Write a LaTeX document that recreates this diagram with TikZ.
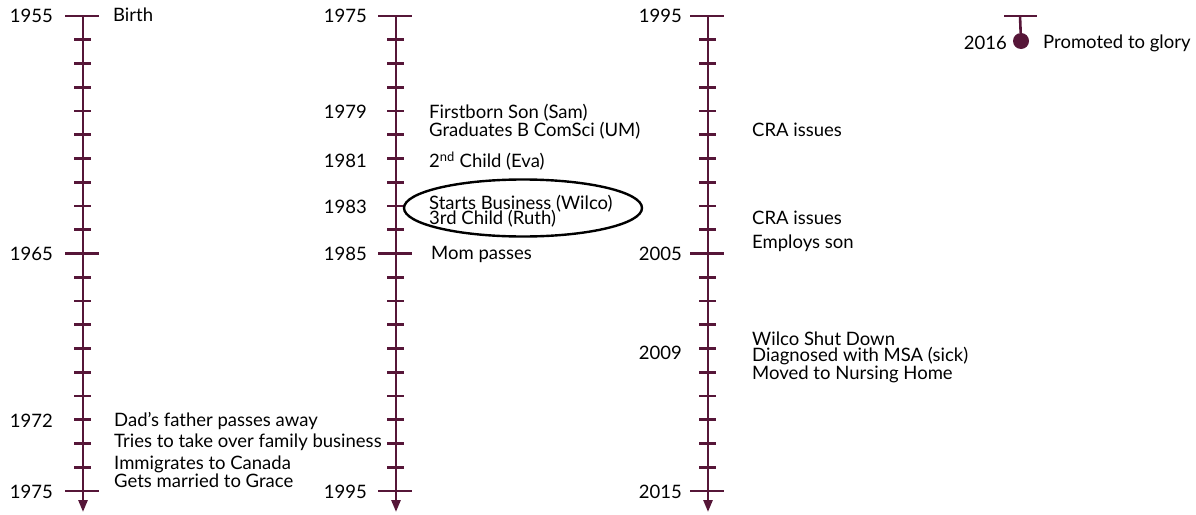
\documentclass[tikz,border=0pt]{standalone}
\usepackage{fontspec}
\setmainfont{Lato}
\usepackage{tikz}
\usetikzlibrary{arrows.meta,positioning,shapes.geometric}
\definecolor{lineplum}{RGB}{86,22,56}

\begin{document}
\begin{tikzpicture}[x=1pt,y=-1pt,
    axis/.style={lineplum, line width=2.6pt, -{Triangle[width=9pt,length=12pt]}},
    tick/.style={lineplum, line width=2.6pt},
    year/.style={anchor=east, inner sep=0pt, font=\fontsize{18.5}{22}\selectfont},
    event/.style={anchor=west, inner sep=0pt, font=\fontsize{18.5}{22}\selectfont}]
    \useasboundingbox (0,0) rectangle (1196,514);

    % Three time axes, 20 years each
    \foreach \x/\n in {83/a, 396/b, 708/c} {
        \coordinate (\n top) at (\x,16);
        \coordinate (\n end) at (\x,512);
        \draw[axis] (\n top) -- (\n end);
        \foreach \i in {0,...,20} {
            \pgfmathsetmacro{\ty}{16+\i*23.75}
            \ifnum\i=0 \draw[tick] (\x-18,\ty) -- (\x+16,\ty);
            \else\ifnum\i=10 \draw[tick] (\x-18,\ty) -- (\x+16,\ty);
            \else\ifnum\i=20 \draw[tick] (\x-18,\ty) -- (\x+16,\ty);
            \else \draw[tick] (\x-9,\ty) -- (\x+8,\ty);
            \fi\fi\fi
        }
    }

    % Years, first axis
    \node[year] (y1955) at (53,16) {1955};
    \node[year] (y1965) at (53,254) {1965};
    \node[year] (y1972) at (53,421) {1972};
    \node[year] (y1975a) at (53,492) {1975};

    % Events, first axis
    \node[event] (birth) at (113,15) {Birth};
    \node[event] (dadfather) at (114,421) {Dad’s father passes away};
    \node[event] (takeover) at (114,442) {Tries to take over family business};
    \node[event] (canada) at (114,464) {Immigrates to Canada};
    \node[event] (married) at (114,481) {Gets married to Grace};

    % Years, second axis
    \node[year] (y1975b) at (367,16) {1975};
    \node[year] (y1979) at (367,112) {1979};
    \node[year] (y1981) at (367,161) {1981};
    \node[year] (y1983) at (367,207) {1983};
    \node[year] (y1985) at (367,254) {1985};
    \node[year] (y1995a) at (367,492) {1995};

    % Events, second axis
    \node[event] (firstborn) at (429,113) {Firstborn Son (Sam)};
    \node[event] (graduates) at (429,131) {Graduates B ComSci (UM)};
    \node[event] (eva) at (429,161) {2\textsuperscript{nd} Child (Eva)};
    \node[event] (business) at (429,204) {Starts Business (Wilco)};
    \node[event] (ruth) at (429,219) {3rd Child (Ruth)};
    \node[event] (mom) at (431,254) {Mom passes};
    \node[draw, ellipse, line width=2.4pt, minimum width=238pt, minimum height=57pt]
        (wilcoring) at (523,208) {};

    % Years, third axis
    \node[year] (y1995b) at (682,16) {1995};
    \node[year] (y2005) at (682,254) {2005};
    \node[year] (y2009) at (682,353) {2009};
    \node[year] (y2015) at (682,492) {2015};

    % Events, third axis
    \node[event] (cra1) at (752,130) {CRA issues};
    \node[event] (cra2) at (752,218) {CRA issues};
    \node[event] (employs) at (752,243) {Employs son};
    \node[event] (shutdown) at (752,339) {Wilco Shut Down};
    \node[event] (msa) at (752,356) {Diagnosed with MSA (sick)};
    \node[event] (nursing) at (752,374) {Moved to Nursing Home};

    % 2016 marker
    \coordinate (d top) at (1020,16);
    \draw[tick] (1004,16) -- (1037,16);
    \node[circle, fill=lineplum, inner sep=0pt, minimum size=16pt] (glorydot) at (1021,41) {};
    \draw[tick] (d top) -- (glorydot);
    \node[year] (y2016) at (1007,43) {2016};
    \node[event] (glory) at (1043,43) {Promoted to glory};
\end{tikzpicture}
\end{document}
